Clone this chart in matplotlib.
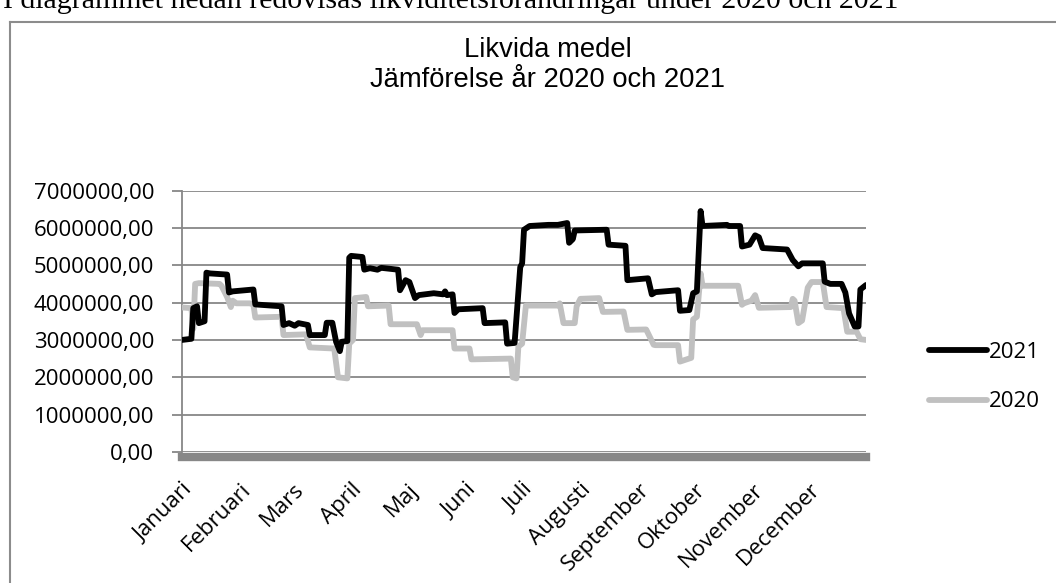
# Likvida medel - jämförelse 2020 och 2021 (dagliga saldon, steg-kurvor)

import matplotlib.pyplot as plt
from matplotlib.lines import Line2D
from matplotlib.ticker import FuncFormatter
import numpy as np

plt.rcParams['font.family'] = ['Open Sans', 'DejaVu Sans']

months = ['Januari', 'Februari', 'Mars', 'April', 'Maj', 'Juni', 'Juli',
          'Augusti', 'September', 'Oktober', 'November', 'December']
month_start = [0, 31, 59, 90, 120, 151, 181, 212, 243, 273, 304, 334]

# 2021, dag på året och saldo i miljoner kr
days_2021 = [0, 5, 6, 8, 9, 12, 13, 15, 24, 25, 27, 38, 39, 53, 54, 57, 60, 62,
             67, 68, 76, 77, 80, 82, 84, 85, 88, 89, 90, 96, 97, 100, 104, 106,
             115, 116, 119, 121, 124, 126, 134, 139, 140, 141, 144, 145, 147,
             160, 161, 172, 173, 177, 180, 181, 182, 185, 195, 200, 205, 206,
             208, 209, 226, 227, 236, 237, 248, 250, 252, 264, 265, 270, 272,
             274, 276, 277, 290, 291, 297, 298, 302, 305, 307, 309, 322, 325,
             328, 330, 341, 342, 345, 351, 353, 355, 358, 360, 361, 364]
mkr_2021 = [3.00, 3.03, 3.85, 3.90, 3.45, 3.50, 4.80, 4.78, 4.75, 4.27, 4.30,
            4.35, 3.95, 3.90, 3.40, 3.45, 3.38, 3.45, 3.40, 3.13, 3.13, 3.46,
            3.46, 2.95, 2.70, 2.95, 2.97, 5.20, 5.25, 5.22, 4.88, 4.92, 4.88,
            4.93, 4.88, 4.33, 4.60, 4.55, 4.12, 4.20, 4.25, 4.22, 4.30, 4.20,
            4.22, 3.72, 3.82, 3.85, 3.45, 3.47, 2.90, 2.92, 4.95, 5.05, 5.95,
            6.05, 6.08, 6.08, 6.13, 5.60, 5.70, 5.93, 5.95, 5.55, 5.52, 4.60,
            4.65, 4.22, 4.28, 4.33, 3.78, 3.80, 4.25, 4.30, 6.45, 6.05, 6.08,
            6.05, 6.05, 5.50, 5.55, 5.80, 5.75, 5.46, 5.42, 5.14, 4.97, 5.05,
            5.05, 4.56, 4.50, 4.50, 4.27, 3.71, 3.36, 3.36, 4.35, 4.47]

# 2020
days_2020 = [0, 5, 6, 7, 9, 20, 21, 24, 26, 27, 29, 36, 38, 39, 53, 54, 66, 68,
             81, 83, 88, 89, 91, 92, 98, 99, 110, 111, 125, 127, 128, 144, 145,
             153, 154, 175, 176, 178, 179, 181, 183, 200, 201, 203, 209, 210,
             212, 222, 224, 235, 237, 247, 251, 252, 264, 265, 271, 272, 274,
             276, 277, 296, 298, 299, 303, 305, 307, 324, 325, 326, 328, 330,
             333, 335, 341, 343, 352, 354, 359, 361, 364]
mkr_2020 = [3.87, 3.85, 3.30, 4.50, 4.52, 4.50, 4.45, 4.15, 3.88, 4.05, 3.98,
            3.98, 3.95, 3.60, 3.62, 3.13, 3.15, 2.80, 2.77, 2.00, 1.97, 2.90,
            3.00, 4.12, 4.15, 3.90, 3.92, 3.42, 3.42, 3.13, 3.26, 3.26, 2.77,
            2.77, 2.48, 2.50, 2.00, 1.97, 2.82, 2.90, 3.92, 3.92, 3.98, 3.45,
            3.45, 3.90, 4.10, 4.12, 3.75, 3.76, 3.27, 3.28, 2.87, 2.86, 2.86,
            2.42, 2.52, 3.55, 3.62, 4.78, 4.45, 4.45, 3.94, 3.98, 4.05, 4.20,
            3.86, 3.88, 4.10, 4.05, 3.45, 3.52, 4.40, 4.55, 4.55, 3.88, 3.85,
            3.22, 3.22, 3.02, 3.00]

grid_col = '#878787'

fig = plt.figure(figsize=(10.56, 5.83), dpi=100)
ax = fig.add_axes([182 / 1056, 131 / 583, 684 / 1056, 261.5 / 583])

ax.plot(days_2020, np.array(mkr_2020) * 1e6, color='#c0c0c0', lw=4.2,
        solid_joinstyle='round', solid_capstyle='round', label='2020', zorder=3)
ax.plot(days_2021, np.array(mkr_2021) * 1e6, color='black', lw=4.2,
        solid_joinstyle='round', solid_capstyle='round', label='2021', zorder=4)

# spines först - set_position nollställer tick-etiketterna
for s in ['top', 'right']:
    ax.spines[s].set_visible(False)
ax.spines['left'].set_color(grid_col)
ax.spines['left'].set_linewidth(1.3)
# tjockt grått band längs x-axeln (Excel-tickmarks)
ax.spines['bottom'].set_color(grid_col)
ax.spines['bottom'].set_linewidth(6)
ax.spines['bottom'].set_position(('outward', 3.5))

ax.set_xlim(0, 364)
ax.set_ylim(0, 7000000)
ax.set_yticks(np.arange(0, 7000001, 1000000))
ax.yaxis.set_major_formatter(FuncFormatter(lambda v, p: f'{v:.2f}'.replace('.', ',')))
ax.grid(axis='y', color=grid_col, lw=1.3)
ax.set_axisbelow(True)

ax.tick_params(axis='y', length=7, width=1.3, color=grid_col, pad=13,
               labelsize=16)
ax.tick_params(axis='x', length=0, pad=16, labelsize=16)

ax.set_xticks(month_start)
ax.set_xticklabels(months, rotation=45, ha='right', va='top',
                   rotation_mode='anchor')

fig.text(548 / 1056, 1 - 65 / 583, 'Likvida medel\nJämförelse år 2020 och 2021',
         family='Liberation Sans', fontsize=19.7, ha='center', va='center',
         linespacing=1.2)

h, l = ax.get_legend_handles_labels()
fig.legend(h[::-1], l[::-1], loc='center left', bbox_to_anchor=(909 / 1056, 1 - 377 / 583),
           frameon=False, handlelength=2.6, handletextpad=0.1, labelspacing=1.3,
           fontsize=16)

# ram runt diagrammet och text ovanför (avskuren i originalet)
fig.add_artist(Line2D([10 / 1056, 10 / 1056], [0, 1 - 22 / 583], color='#8c8c8c', lw=1.5))
fig.add_artist(Line2D([10 / 1056, 1], [1 - 22 / 583, 1 - 22 / 583], color='#8c8c8c', lw=1.5))
fig.text(3 / 1056, 1 - 8 / 583, 'I diagrammet nedan redovisas likviditetsförändringar under 2020 och 2021',
         family='Liberation Serif', fontsize=21.5, va='baseline')

fig.savefig('out.png', dpi=100)
